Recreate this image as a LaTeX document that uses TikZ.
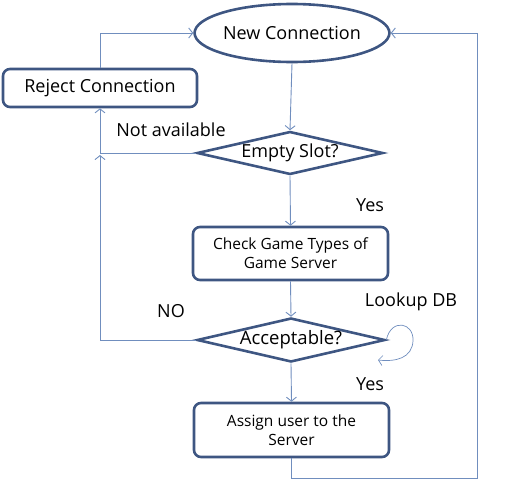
\documentclass[tikz,border=0pt]{standalone}
\usepackage{fontspec}
\setmainfont{Open Sans}
\usetikzlibrary{shapes.geometric,arrows.meta}
\definecolor{nodeblue}{RGB}{62,86,130}
\definecolor{lineblue}{RGB}{112,142,190}
\tikzset{
  base/.style={draw=nodeblue, line width=2.6pt, inner sep=0pt, align=center, text=black},
  term/.style={base, ellipse, minimum width=188pt, minimum height=58pt, font=\fontsize{18}{20}\selectfont},
  proc/.style={base, rectangle, rounded corners=7pt, font=\fontsize{15.5}{19}\selectfont},
  decision/.style={base, diamond, aspect=4.3, font=\fontsize{18}{20}\selectfont},
  conn/.style={draw=lineblue, line width=0.9pt, -{Straight Barb[length=4pt,width=10pt]}},
  lbl/.style={font=\fontsize{18}{20}\selectfont, text=black}
}
\begin{document}
\begin{tikzpicture}[x=1pt,y=-1pt]
\useasboundingbox (0,0) rectangle (506,482);
\node[term] (nc) at (292,33) {New Connection};
\node[proc, minimum width=194pt, minimum height=38pt, font=\fontsize{18}{20}\selectfont] (rej) at (100,88) {Reject Connection};
\node[decision, minimum width=186pt, minimum height=43pt] (es) at (290,153) {Empty Slot?};
\node[proc, minimum width=195pt, minimum height=53pt] (chk) at (290.5,253.5) {Check Game Types of\\Game Server};
\node[decision, minimum width=188pt, minimum height=44pt, font=\fontsize{18.5}{20}\selectfont] (acc) at (291,340) {Acceptable?};
\node[proc, minimum width=195pt, minimum height=54pt] (asg) at (291.5,430) {Assign user to the\\Server};
\coordinate (nojoin) at (100,155);
\coordinate (rt) at (477,478);
\draw[conn] (nc.south) -- (es.north);
\draw[conn] (es.south) -- (chk.north);
\draw[conn] (chk.south) -- (acc.north);
\draw[conn] (acc.south) -- (asg.north);
\draw[conn] (es.west) -| (rej.south);
\draw[conn] (acc.west) -| (nojoin);
\draw[conn] (rej.north) |- (nc.west);
\draw[conn] (asg.south) |- (rt) |- (nc.east);
\draw[conn, line width=0.7pt] (acc.east) .. controls (391,318) and (414,322) .. (413,341) .. controls (412,358) and (396,362) .. (378,360);
\node[lbl] (lna) at (171,130) {Not available};
\node[lbl] (ly1) at (370,205) {Yes};
\node[lbl] (lno) at (171,311) {NO};
\node[lbl] (ldb) at (411,302) {Lookup DB};
\node[lbl] (ly2) at (370,384) {Yes};
\end{tikzpicture}
\end{document}
